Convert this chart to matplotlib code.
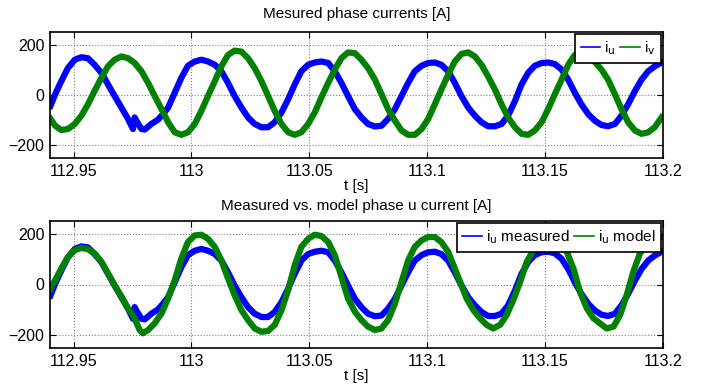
import matplotlib
matplotlib.use('Agg')
import matplotlib.pyplot as plt

plt.rcParams['font.family'] = ['Liberation Sans', 'DejaVu Sans']
plt.rcParams['font.size'] = 11.5

# phase u current (measured)
t_u = [112.9402, 112.9422, 112.9448, 112.9476, 112.9505, 112.9533, 112.9561, 112.9589,
       112.9618, 112.9646, 112.9674, 112.9703, 112.9731, 112.9752, 112.9759, 112.9766,
       112.9788, 112.9802, 112.983, 112.9858, 112.9879, 112.9901, 112.9929, 112.9957,
       112.9985, 113.0014, 113.0042, 113.007, 113.0099, 113.0127, 113.0155, 113.0183,
       113.0212, 113.024, 113.0268, 113.0297, 113.0325, 113.0353, 113.0382, 113.041,
       113.0438, 113.0466, 113.0495, 113.0523, 113.0551, 113.058, 113.0608, 113.0636,
       113.0664, 113.0693, 113.0721, 113.0749, 113.0778, 113.0806, 113.0834, 113.0863,
       113.0891, 113.0919, 113.0947, 113.0976, 113.1004, 113.1032, 113.106, 113.1089,
       113.1117, 113.1145, 113.1174, 113.1202, 113.123, 113.1258, 113.1287, 113.1315,
       113.1343, 113.1372, 113.14, 113.1428, 113.1456, 113.1485, 113.1513, 113.1541,
       113.157, 113.1598, 113.1626, 113.1654, 113.1683, 113.1711, 113.1739, 113.1767,
       113.1796, 113.1824, 113.1852, 113.1881, 113.1909, 113.1937, 113.1965, 113.1994]
i_u = [-43, 3, 55, 107, 140, 150, 146, 120,
       88, 42, -4, -50, -95, -135, -89, -102,
       -135, -137, -115, -98, -76, -50, 9, 68,
       116, 133, 140, 133, 120, 94, 48, -4,
       -50, -89, -115, -128, -128, -108, -69, -17,
       42, 94, 120, 129, 133, 127, 94, 48,
       -4, -56, -89, -115, -125, -122, -95, -56,
       -4, 48, 94, 116, 127, 129, 120, 94,
       48, -4, -50, -82, -108, -124, -124, -115,
       -82, -24, 42, 88, 116, 127, 129, 123,
       101, 61, 9, -37, -76, -102, -119, -124,
       -115, -82, -37, 16, 61, 94, 114, 129]

# phase v current (measured)
t_v = [112.9402, 112.9422, 112.9448, 112.9476, 112.9505, 112.9533, 112.9561, 112.9589,
       112.9618, 112.9646, 112.9674, 112.9703, 112.9731, 112.9759, 112.9788, 112.9816,
       112.9844, 112.9873, 112.9901, 112.9929, 112.9957, 112.9985, 113.0014, 113.0042,
       113.007, 113.0099, 113.0127, 113.0155, 113.0183, 113.0212, 113.024, 113.0268,
       113.0297, 113.0325, 113.0353, 113.0382, 113.041, 113.0438, 113.0466, 113.0495,
       113.0523, 113.0551, 113.058, 113.0608, 113.0636, 113.0664, 113.0693, 113.0721,
       113.0749, 113.0778, 113.0806, 113.0834, 113.0863, 113.0891, 113.0919, 113.0947,
       113.0976, 113.1004, 113.1032, 113.106, 113.1089, 113.1117, 113.1145, 113.1174,
       113.1202, 113.123, 113.1258, 113.1287, 113.1315, 113.1343, 113.1372, 113.14,
       113.1428, 113.1456, 113.1485, 113.1513, 113.1541, 113.157, 113.1598, 113.1626,
       113.1668, 113.1697, 113.1739, 113.1767, 113.1796, 113.1824, 113.1852, 113.1881,
       113.1909, 113.1937, 113.1965, 113.1994]
i_v = [-95, -122, -139, -135, -115, -82, -37, 16,
       68, 114, 140, 153, 146, 127, 94, 48,
       -4, -56, -108, -148, -158, -148, -115, -63,
       -4, 55, 114, 159, 176, 172, 146, 107,
       55, -4, -63, -115, -148, -158, -148, -115,
       -69, -10, 48, 101, 146, 169, 166, 140,
       107, 61, 3, -56, -102, -141, -158, -158,
       -135, -95, -37, 22, 81, 133, 163, 169,
       153, 120, 74, 22, -37, -89, -128, -154,
       -158, -141, -108, -56, 3, 61, 120, 159,
       179, 146, 101, 61, 3, -56, -108, -141,
       -154, -148, -128, -89]

# phase u current (model)
t_m = [112.9402, 112.9422, 112.9448, 112.9476, 112.9505, 112.9533, 112.9561, 112.9589,
       112.9618, 112.9646, 112.9674, 112.9703, 112.9731, 112.9759, 112.978, 112.9794,
       112.9816, 112.9844, 112.9873, 112.9901, 112.9929, 112.9957, 112.9985, 113.0014,
       113.0042, 113.007, 113.0099, 113.0127, 113.0155, 113.0183, 113.0212, 113.024,
       113.0268, 113.0297, 113.0325, 113.0353, 113.0382, 113.041, 113.0438, 113.0466,
       113.0495, 113.0523, 113.0551, 113.058, 113.0608, 113.0636, 113.0664, 113.0693,
       113.0721, 113.0749, 113.0778, 113.0806, 113.0834, 113.0863, 113.0891, 113.0919,
       113.0947, 113.0976, 113.1004, 113.1032, 113.106, 113.1089, 113.1117, 113.1145,
       113.1167, 113.1196, 113.1224, 113.1252, 113.128, 113.1309, 113.1337, 113.1365,
       113.1394, 113.1422, 113.145, 113.1478, 113.1513, 113.155, 113.1592, 113.162,
       113.1648, 113.1677, 113.1705, 113.1733, 113.1761, 113.179, 113.1818, 113.1846,
       113.1874, 113.1902, 113.1931, 113.1959, 113.1987, 113.2]
i_m = [-16, 17, 63, 108, 135, 144, 139, 122,
       89, 43, -3, -48, -94, -133, -179, -192,
       -179, -153, -114, -55, 17, 102, 167, 193,
       196, 180, 148, 95, 24, -42, -101, -140,
       -173, -186, -183, -159, -101, -22, 76, 148,
       180, 196, 191, 167, 115, 30, -55, -107,
       -140, -166, -179, -173, -140, -75, 10, 95,
       148, 174, 187, 187, 167, 128, 63, -3,
       -55, -101, -133, -159, -173, -159, -120, -61,
       10, 89, 135, 165, 185, 170, 128, 63,
       -29, -94, -133, -153, -173, -166, -120, -42,
       50, 122, 161, 180, 187, 188]

blue = (0, 0, 1)
green = (0, 0.5, 0)

fig = plt.figure(figsize=(7.02, 3.89), dpi=100)
ax1 = fig.add_axes([50/702, 1-158/389, 613/702, 126/389])
ax2 = fig.add_axes([50/702, 1-348/389, 613/702, 127/389])

ax1.plot(t_u, i_u, color=blue, lw=4.5, label=r'i$_\mathrm{u}$')
ax1.plot(t_v, i_v, color=green, lw=4.5, label=r'i$_\mathrm{v}$')
ax1.set_title('Mesured phase currents [A]', pad=10, fontsize=11)

ax2.plot(t_u, i_u, color=blue, lw=4.5, label=r'i$_\mathrm{u}$ measured')
ax2.plot(t_m, i_m, color=green, lw=4.5, label=r'i$_\mathrm{u}$ model')
ax2.set_title('Measured vs. model phase u current [A]', pad=8, fontsize=11)

for ax in [ax1, ax2]:
    ax.set_xlim(112.94, 113.2)
    ax.set_ylim(-250, 250)
    ax.set_xticks([112.95, 113.0, 113.05, 113.1, 113.15, 113.2])
    ax.set_xticklabels(['112.95', '113', '113.05', '113.1', '113.15', '113.2'])
    ax.set_yticks([-200, 0, 200])
    ax.grid(True, linestyle=':', color='gray', lw=0.8)
    ax.tick_params(direction='in', top=True, right=True, length=4, pad=4)
    ax.set_xlabel('t [s]', labelpad=0, fontsize=11)
    for s in ax.spines.values():
        s.set_linewidth(1.2)
    leg = ax.legend(loc='upper right', ncol=2, handlelength=1.3, handletextpad=0.25,
                    columnspacing=0.3, borderpad=0.35, borderaxespad=0.15,
                    fancybox=False, edgecolor='black', framealpha=1, fontsize=11)
    leg.get_frame().set_linewidth(1.2)
    for ln in leg.get_lines():
        ln.set_linewidth(1.2)

fig.savefig('out.png', dpi=100)
